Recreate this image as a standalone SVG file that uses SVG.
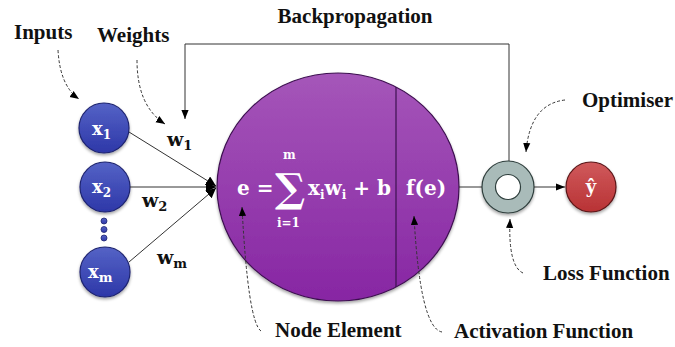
<svg xmlns="http://www.w3.org/2000/svg" width="675" height="347" viewBox="0 0 675 347">
<defs>
<style>
.lbl{font-family:"Liberation Serif","Times New Roman",serif;font-weight:bold;font-size:21px;fill:#111}
.w{font-family:"DejaVu Serif","Liberation Serif",serif;font-weight:bold;font-size:19px;fill:#111}
.wt{font-family:"DejaVu Serif","Liberation Serif",serif;font-weight:bold;fill:#fff}
.line{stroke:#333;stroke-width:1;fill:none}
.dash{stroke:#333;stroke-width:1;fill:none;stroke-dasharray:3,2}
</style>
<marker id="ah" viewBox="0 0 10 10" refX="10" refY="5" markerWidth="10" markerHeight="10" markerUnits="userSpaceOnUse" orient="auto">
<path d="M0,0 L10,5 L0,10 Z" fill="#000"/>
</marker>
<marker id="ahs" viewBox="0 0 10 10" refX="10" refY="5" markerWidth="9" markerHeight="9" markerUnits="userSpaceOnUse" orient="auto">
<path d="M0,1 L10,5 L0,9 Z" fill="#000"/>
</marker>
<linearGradient id="gp" x1="0" y1="0" x2="0" y2="1">
<stop offset="0" stop-color="#A556B9"/>
<stop offset="1" stop-color="#8726A3"/>
</linearGradient>
<linearGradient id="gb" x1="0" y1="0" x2="0" y2="1">
<stop offset="0" stop-color="#5563C6"/>
<stop offset="1" stop-color="#2D37A8"/>
</linearGradient>
<linearGradient id="gr" x1="0" y1="0" x2="0" y2="1">
<stop offset="0" stop-color="#D05A5C"/>
<stop offset="1" stop-color="#B83234"/>
</linearGradient>
<filter id="sh" x="-20%" y="-20%" width="140%" height="150%">
<feDropShadow dx="0" dy="2" stdDeviation="1.5" flood-color="#000" flood-opacity="0.35"/>
</filter>
</defs>
<rect width="675" height="347" fill="#fff"/>

<g id="input-x1">
<circle cx="104" cy="128" r="25" fill="url(#gb)" stroke="#1E2470" stroke-width="1.2" filter="url(#sh)"/>
<text class="wt" x="92" y="135" font-size="18">x<tspan font-size="12" dy="4">1</tspan></text>
</g>
<g id="input-x2">
<circle cx="105" cy="187" r="25" fill="url(#gb)" stroke="#1E2470" stroke-width="1.2" filter="url(#sh)"/>
<text class="wt" x="92" y="193" font-size="18">x<tspan font-size="12" dy="4">2</tspan></text>
</g>
<g id="dots">
<circle cx="104" cy="221" r="3" fill="url(#gb)" stroke="#1E2470" stroke-width="0.8"/>
<circle cx="104" cy="229.5" r="3" fill="url(#gb)" stroke="#1E2470" stroke-width="0.8"/>
<circle cx="104" cy="238" r="3" fill="url(#gb)" stroke="#1E2470" stroke-width="0.8"/>
</g>
<g id="input-xm">
<circle cx="105" cy="272" r="25" fill="url(#gb)" stroke="#1E2470" stroke-width="1.2" filter="url(#sh)"/>
<text class="wt" x="88" y="278" font-size="18">x<tspan font-size="13" dy="4">m</tspan></text>
</g>

<g id="weights">
<text class="w" x="167" y="146">w<tspan font-size="13" dy="4">1</tspan></text>
<text class="w" x="142" y="207">w<tspan font-size="13" dy="4">2</tspan></text>
<text class="w" x="157" y="264">w<tspan font-size="13" dy="4">m</tspan></text>
</g>

<g id="node-element">
<ellipse cx="338" cy="187" rx="121" ry="114" fill="url(#gp)" stroke="#3D1150" stroke-width="1.2" filter="url(#sh)"/>
<line x1="396" y1="87" x2="396" y2="287" stroke="#3D1150" stroke-width="1.2"/>
<text class="wt" x="237" y="195" font-size="20">e =</text>
<text class="wt" x="275" y="202" font-size="40" font-weight="normal">∑</text>
<text class="wt" x="283" y="159" font-size="12">m</text>
<text class="wt" x="277" y="227" font-size="12">i=1</text>
<text class="wt" x="308" y="195" font-size="20">x<tspan font-size="12" dy="4">i</tspan><tspan dy="-4">w</tspan><tspan font-size="12" dy="4">i</tspan><tspan dy="-4"> + b</tspan></text>
<text class="wt" x="406" y="195" font-size="20">f(e)</text>
</g>

<g id="loss">
<circle cx="508" cy="187" r="26" fill="#A9BBB9" stroke="#2E3E3C" stroke-width="1.2" filter="url(#sh)"/>
<circle cx="508" cy="187" r="12.5" fill="#fff" stroke="#2E3E3C" stroke-width="1.2"/>
</g>
<g id="output">
<circle cx="591" cy="187" r="25" fill="url(#gr)" stroke="#5A1416" stroke-width="1.2" filter="url(#sh)"/>
<text class="wt" x="591" y="193" font-size="18" text-anchor="middle">ŷ</text>
</g>

<g id="connectors">
<line class="line" x1="129" y1="132" x2="216" y2="186" marker-end="url(#ah)"/>
<line class="line" x1="130" y1="187" x2="216" y2="187" marker-end="url(#ah)"/>
<line class="line" x1="129" y1="262" x2="216" y2="188" marker-end="url(#ah)"/>
<line class="line" x1="459" y1="187" x2="482" y2="187"/>
<line class="line" x1="534" y1="187" x2="565" y2="187" marker-end="url(#ahs)"/>
<path class="line" d="M509,161 V44 H185 V119" marker-end="url(#ahs)"/>
<path class="dash" d="M58,50 Q60,86 79,99" marker-end="url(#ahs)"/>
<path class="dash" d="M137,60 Q137,106 165,124" marker-end="url(#ahs)"/>
<path class="dash" d="M565,100 Q530,104 526,152" marker-end="url(#ahs)"/>
<path class="dash" d="M523,273 Q508,266 510,219" marker-end="url(#ahs)"/>
<path class="dash" d="M442,332 Q420,328 414,216" marker-end="url(#ahs)"/>
<path class="dash" d="M261,331 Q248,322 242,207" marker-end="url(#ahs)"/>
</g>

<g id="labels">
<text class="lbl" x="14" y="39">Inputs</text>
<text class="lbl" x="97" y="42">Weights</text>
<text class="lbl" x="355" y="23" text-anchor="middle">Backpropagation</text>
<text class="lbl" x="582" y="107">Optimiser</text>
<text class="lbl" x="543" y="280">Loss Function</text>
<text class="lbl" x="275" y="337">Node Element</text>
<text class="lbl" x="454" y="338">Activation Function</text>
</g>
</svg>
